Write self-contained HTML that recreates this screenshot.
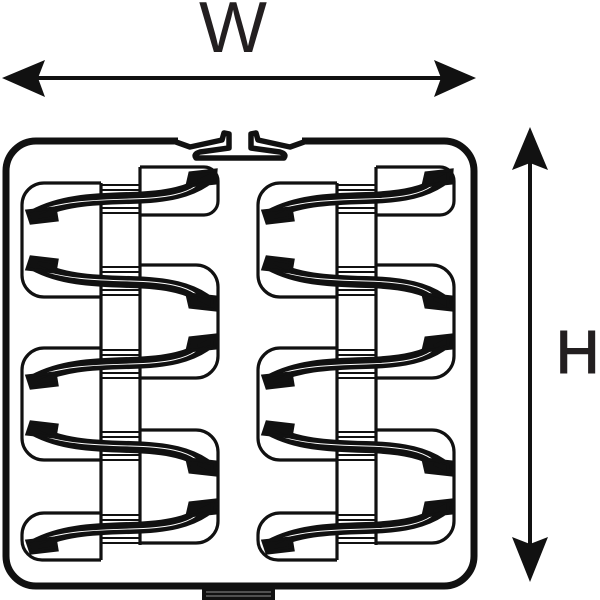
<!DOCTYPE html>
<html><head><meta charset="utf-8"><style>
html,body{margin:0;padding:0;background:#fff;width:600px;height:600px;overflow:hidden}
svg{display:block}
</style></head><body>
<svg width="600" height="600" viewBox="0 0 600 600" xmlns="http://www.w3.org/2000/svg">
<defs>
<g id="bandO">
  <path d="M34 16 C60 2,90 0,130 -1 C170 -2,190 -8,205 -18" fill="none" stroke="#111" stroke-width="12" stroke-linecap="round"/>
  <path d="M44 10 C64 3,90 1,130 0 C170 -1,186 -6,196 -13" fill="none" stroke="#fff" stroke-width="0.9"/>
  <polygon points="27,12 31,24 57,21 55,9" fill="#111"/>
  <polygon points="38,18 51,16 50,13" fill="#fff"/>
  <polygon points="187,-13 190,-26 216,-29 215,-16" fill="#111"/>
  <polygon points="198,-18 209,-23 209,-20" fill="#fff"/>
</g>
<g id="bandE" transform="scale(1,-1)"><use href="#bandO"/></g>
<g id="strip" fill="none" stroke="#111" stroke-width="2">
  <path d="M101 -14H140M101 -9H140M101 9H140M101 14H140"/>
</g>
<g id="col" fill="none" stroke="#111" stroke-width="3.2">
  <path d="M101 183V560M140 167V545"/>
  <path d="M101 183H44A22 22 0 0 0 22 205V275A22 22 0 0 0 44 297H101"/>
  <path d="M101 348H44A22 22 0 0 0 22 370V438A22 22 0 0 0 44 460H101"/>
  <path d="M101 513H44A22 22 0 0 0 22 535V540A20 20 0 0 0 42 560H101"/>
  <path d="M140 167H204A14 14 0 0 1 218 181V201A14 14 0 0 1 204 215H140"/>
  <path d="M140 265H196A22 22 0 0 1 218 287V356A22 22 0 0 1 196 378H140"/>
  <path d="M140 430H196A22 22 0 0 1 218 452V521A22 22 0 0 1 196 543H140"/>
  <use href="#strip" y="199"/>
  <use href="#strip" y="281"/>
  <use href="#strip" y="364"/>
  <use href="#strip" y="446"/>
  <use href="#strip" y="529"/>
  <use href="#bandO" y="199"/>
  <g transform="translate(0,281)"><use href="#bandE"/></g>
  <use href="#bandO" y="364"/>
  <g transform="translate(0,446)"><use href="#bandE"/></g>
  <use href="#bandO" y="529"/>
</g>
</defs>

<path d="M178 141H36A30 30 0 0 0 6 171V556A30 30 0 0 0 36 586H444A30 30 0 0 0 474 556V171A30 30 0 0 0 444 141H302" fill="none" stroke="#111" stroke-width="7"/>
<rect x="202" y="587" width="73" height="13" fill="#111"/>
<path d="M206 592H271M206 596H271" stroke="#bbb" stroke-width="0.8"/>
<g fill="none" stroke="#111" stroke-width="5.5" stroke-linejoin="round" stroke-linecap="round">
  <path d="M176 142L190 147L222 140L224 133L229 134L229 148L200 152Q193 154 196 158L284 158Q287 154 280 152L251 148L251 134L256 133L258 140L290 147L304 142"/>
</g>

<use href="#col"/>
<use href="#col" x="236"/>

<line x1="30" y1="78" x2="450" y2="78" stroke="#111" stroke-width="4"/>
<polygon points="2,78 45,60 38,78 45,97" fill="#111"/>
<polygon points="476,78 434,60 441,78 434,97" fill="#111"/>
<text x="233" y="52" font-family="Liberation Sans, sans-serif" font-size="72" text-anchor="middle" fill="#231f20">W</text>

<line x1="530" y1="150" x2="530" y2="560" stroke="#111" stroke-width="4"/>
<polygon points="530,127 512,170 530,163 548,170" fill="#111"/>
<polygon points="530,582 512,537 530,544 548,537" fill="#111"/>
<text x="556" y="373" font-family="Liberation Sans, sans-serif" font-size="60" fill="#231f20" stroke="#231f20" stroke-width="1.5">H</text>
</svg>
</body></html>
